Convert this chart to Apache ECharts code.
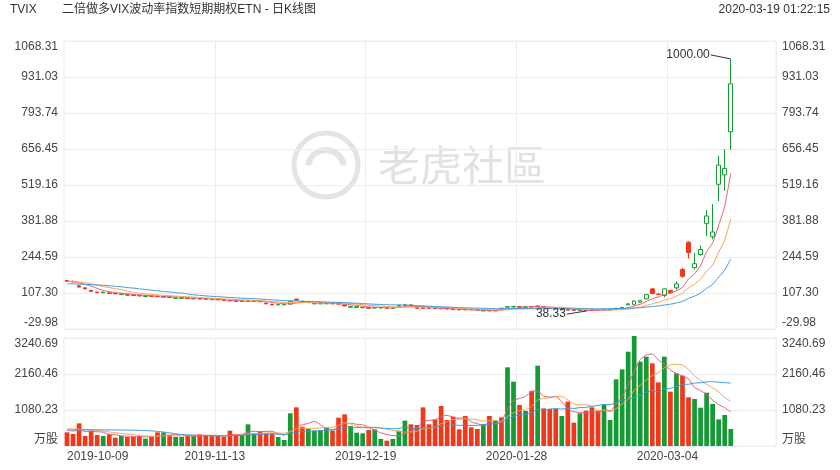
<!DOCTYPE html>
<html><head><meta charset="utf-8">
<script src="https://cdn.jsdelivr.net/npm/echarts@6/dist/echarts.min.js"></script>
<style>html,body{margin:0;padding:0;background:#fff}#c{width:840px;height:470px}</style>
</head><body><div id="c"></div><script>
// ---------------- data ----------------
const dates = [
'2019-10-09','2019-10-10','2019-10-11','2019-10-14','2019-10-15','2019-10-16','2019-10-17','2019-10-18','2019-10-21','2019-10-22',
'2019-10-23','2019-10-24','2019-10-25','2019-10-28','2019-10-29','2019-10-30','2019-10-31','2019-11-01','2019-11-04','2019-11-05',
'2019-11-06','2019-11-07','2019-11-08','2019-11-11','2019-11-12','2019-11-13','2019-11-14','2019-11-15','2019-11-18','2019-11-19',
'2019-11-20','2019-11-21','2019-11-22','2019-11-25','2019-11-26','2019-11-27','2019-11-29','2019-12-02','2019-12-03','2019-12-04',
'2019-12-05','2019-12-06','2019-12-09','2019-12-10','2019-12-11','2019-12-12','2019-12-13','2019-12-16','2019-12-17','2019-12-18',
'2019-12-19','2019-12-20','2019-12-23','2019-12-24','2019-12-26','2019-12-27','2019-12-30','2019-12-31','2020-01-02','2020-01-03',
'2020-01-06','2020-01-07','2020-01-08','2020-01-09','2020-01-10','2020-01-13','2020-01-14','2020-01-15','2020-01-16','2020-01-17',
'2020-01-21','2020-01-22','2020-01-23','2020-01-24','2020-01-27','2020-01-28','2020-01-29','2020-01-30','2020-01-31','2020-02-03',
'2020-02-04','2020-02-05','2020-02-06','2020-02-07','2020-02-10','2020-02-11','2020-02-12','2020-02-13','2020-02-14','2020-02-18',
'2020-02-19','2020-02-20','2020-02-21','2020-02-24','2020-02-25','2020-02-26','2020-02-27','2020-02-28','2020-03-02','2020-03-03',
'2020-03-04','2020-03-05','2020-03-06','2020-03-09','2020-03-10','2020-03-11','2020-03-12','2020-03-13','2020-03-16','2020-03-17',
'2020-03-18'];

const openPx = [
155,152,135,127,117,111,108,108,106,101,
101,100,98,94,96,95,91,92,87,87,
88,85,86,85,84,83,81,79,77,75,
75,75,76,69,64,62,62,65,84,75,
71,66,66,66,68,69,62,53,52,51,
52,50,50,51,49,57,59,62,52,51,
51,50,49,48,46,45,45,45,44,39,
41,39,49,53,54,55,53,56,54,55,
51,49,43,44,43,40,41,43,45,43,
43,46,48,62,64,72,85,123,103,98,
117,127,197,301,204,254,373,322,522,558,
722];
const closePx = [
151,150,130,123,113,109,111,105,104,104,
99,98,96,97,94,93,94,90,89,89,
86,87,84,83,82,81,79,77,75,77,
77,77,74,66,62,64,64,76,80,72,
73,68,68,68,66,65,58,56,55,53,
49,52,52,49,51,60,62,59,49,49,
49,48,47,46,44,43,43,43,42,41,
39,41,47,55,56,53,55,54,58,53,
49,47,45,42,41,42,39,41,43,45,
46,49,52,66,77,78,101,105,101,123,
108,142,171,261,219,273,401,340,595,582,
905];
const lowPx = [
149,148,129,122,112,107,107,104,103,100,
98,97,95,93,93,92,90,89,86,86,
85,84,83,82,81,80,78,76,74,74,
74,74,73,65,61,61,61,64,78,71,
70,65,65,65,65,63,57,52,51,50,
48,49,49,48,48,56,58,58,48,48,
48,47,46,45,43,42,42,42,41,38.8,
38.6,38.7,46,52,53,52,52,53,53,52,
48,46,42,41,40,39.5,38.33,40,42,42,
42,45,47,60,60,70,83,103,99,91,
104,120,165,238,197,250,324,312,458,497,
654];
const highPx = [
158,154,136,128,118,112,112,109,107,105,
102,101,99,98,97,96,95,93,90,90,
89,88,87,86,85,84,82,80,78,78,
78,78,77,70,65,65,65,78,85,76,
74,69,69,69,69,71,63,57,56,54,
53,53,53,52,52,61,63,63,53,52,
52,51,50,49,47,46,46,46,45,42,
42,42,50,56,57,56,56,57,59,56,
52,50,46,45,44,43,42,44,46,46,
47,50,53,68,79,80,104,126,108,125,
120,152,203,305,261,289,424,446,630,656,
1000];

const ma5 = [
152,150,146,140,133.4,125,117.2,112.2,108.4,106.6,
104.6,102,100.2,98.8,96.8,95.6,94.8,93.6,92,91,
89.6,88.2,87,85.8,84.4,83.4,81.8,80.4,78.8,77.8,
77,76.6,76,74.2,71.2,68.6,66,66.4,69.2,71.2,
73,73.8,72.2,69.8,68.6,67,65,62.6,60,57.4,
54.2,53,52.2,51,50.6,52.8,54.8,56.2,56.2,55.8,
53.6,50.8,48.4,47.8,46.8,45.6,44.6,43.8,43,42.4,
41.6,41.2,42,44.6,47.6,50.4,53.2,54.6,55.2,54.6,
53.8,52.2,50.4,47.2,44.8,43.4,41.8,41,41.2,42,
42.8,44.8,47,51.6,58,64.4,74.8,85.4,92.4,101.6,
107.6,115.8,129,161,180.2,213.2,265,298.8,365.6,438.2,
564.6];
const ma10 = [
152,151,149,146,142,137,132,128,124,120,
114.8,109.6,106.2,103.6,101.7,100.1,98.4,96.9,95.4,93.9,
92.6,91.5,90.3,88.9,87.7,86.5,85,83.7,82.3,81.1,
80.2,79.2,78.2,76.5,74.5,72.8,71.3,71.2,71.7,71.2,
70.8,69.9,69.3,69.5,69.9,70,69.4,67.4,64.9,63,
60.6,59,57.4,55.5,54,53.5,53.9,54.2,53.6,53.2,
53.2,52.8,52.3,52,51.3,49.6,47.7,46.1,45.4,44.6,
43.6,42.9,42.9,43.8,45,46,47.2,48.3,49.9,51.1,
52.1,52.7,52.5,51.2,49.7,48.6,47,45.7,44.2,43.4,
43.1,43.3,44,46.4,50,53.6,59.8,66.2,72,79.8,
86,95.3,107.2,126.7,140.9,160.4,190.4,213.9,263.3,309.2,
388.9];
const ma20 = [
143,142,141,140,139,138,137,135,133,131,
128,126,123,121,118,116,113,111,108.5,107,
103.7,100.6,98.3,96.3,94.7,93.3,91.7,90.3,88.9,87.5,
86.4,85.4,84.3,82.7,81.1,79.7,78.2,77.5,77,76.2,
75.5,74.6,73.8,73,72.2,71.4,70.4,69.3,68.3,67.1,
65.7,64.5,63.4,62.5,62,61.8,61.7,60.8,59.3,58.1,
56.9,55.9,54.9,53.8,52.7,51.6,50.8,50.2,49.5,48.9,
48.4,47.9,47.6,47.9,48.2,47.8,47.5,47.2,47.7,47.9,
47.9,47.8,47.7,47.5,47.4,47.3,47.1,47,47.1,47.3,
47.6,48,48.3,48.8,49.9,51.1,53.4,56,58.1,61.6,
64.6,69.3,75.6,86.6,95.5,107,125.1,140.1,167.7,194.5,
237.5];

const volume = [
410,360,680,300,460,330,300,350,250,300,
270,270,300,220,280,410,410,330,270,270,
310,300,350,300,300,300,280,460,350,350,
650,380,430,380,380,270,180,980,1160,580,
510,460,480,558,460,850,950,600,400,380,
480,500,210,160,210,460,760,650,630,1160,
650,800,1200,780,880,500,900,560,510,650,
900,760,860,2360,1930,1230,1050,1650,2410,1130,
1110,1110,900,1330,700,980,1060,1160,1060,1230,
780,2000,2300,2830,3300,2530,2680,2480,1910,2680,
1630,2180,2110,1460,1410,1150,1600,1260,800,930,
510];
const vma5 = [
470,450,480,440,442,426,414,348,338,306,
294,288,278,272,268,296,324,330,340,338,
318,296,300,306,312,310,306,328,338,348,
418,438,432,438,444,368,328,438,594,634,
682,738,638,518,494,562,660,684,652,636,
562,472,394,346,312,308,360,448,542,732,
770,778,888,918,862,832,852,724,670,624,
704,676,736,1106,1362,1428,1486,1644,1654,1494,
1470,1482,1332,1116,1030,1004,994,1046,992,1098,
1058,1246,1474,1828,2242,2592,2728,2764,2580,2456,
2276,2176,2102,2012,1758,1662,1546,1376,1244,1148,
1020];
const vma10 = [
520,515,510,500,490,470,450,420,395,374,
360,351,313,305,287,295,306,304,306,303,
307,310,315,323,325,314,301,314,322,330,
364,372,380,388,396,393,383,435,516,539,
525,533,538,556,564,622,699,661,585,565,
562,566,539,499,474,435,416,421,444,522,
539,569,668,730,797,801,815,806,794,743,
768,764,730,888,993,1066,1081,1190,1380,1428,
1449,1484,1488,1385,1262,1237,1238,1189,1054,1064,
1031,1120,1260,1410,1670,1825,1987,2119,2204,2349,
2434,2452,2433,2296,2107,1969,1861,1739,1628,1453,
1341];
const vma20 = [
480,481,482,483,484,484,483,482,481,480,
478,475,470,462,452,440,420,395,368,339,
334,331,314,314,306,305,304,309,314,317,
336,341,348,356,361,354,342,375,419,435,
445,453,459,472,480,508,541,548,551,552,
544,550,539,528,519,529,558,541,515,544,
551,568,604,615,636,618,616,614,619,633,
654,667,699,809,895,934,948,998,1087,1086,
1109,1124,1109,1137,1128,1152,1160,1190,1217,1246,
1240,1302,1374,1398,1467,1531,1612,1654,1629,1706,
1732,1786,1846,1853,1888,1897,1924,1929,1916,1901,
1889];

const priceTicks = ['-29.98','107.30','244.59','381.88','519.16','656.45','793.74','931.03','1068.31'];
const volumeTicks = ['万股','1080.23','2160.46','3240.69'];
const annotations = [
  {index:110, value:1000, text:'1000.00', kind:'high'},
  {index:86, value:38.33, text:'38.33', kind:'low'}
];

// ---------------- layout / style ----------------
const PMIN = -29.98, PMAX = 1068.31, PSTEP = (PMAX - PMIN) / 8;
const VMIN = 0, VMAX = 3240.69, VSTEP = 1080.23;
const GREEN = '#169a35', RED = '#f0381a';
const GRID = '#e7eef4';
const LBL = '#454545';
const FONT = '"Liberation Sans", Arial, "Noto Sans CJK SC", sans-serif';
const PAD_SLOTS = 7;
const cats = dates.slice();
for (let k = 1; k <= PAD_SLOTS; k++) cats.push(' '.repeat(k));
const isTick = (i) => i % 25 === 0 && i <= 100;

const candleData = dates.map((d, i) => [openPx[i], closePx[i], lowPx[i], highPx[i]]);
const volData = volume.map((v, i) => ({value: v, itemStyle: {color: closePx[i] >= openPx[i] ? GREEN : RED}}));

function xAxis(gi, showLabel) {
  return {
    type: 'category', gridIndex: gi, data: cats, boundaryGap: true,
    axisLine: {show: false}, axisTick: {show: false},
    splitLine: {show: true, interval: (i) => isTick(i) && i > 0, lineStyle: {color: GRID, width: 1}},
    axisLabel: showLabel ? {
      show: true, interval: (i) => isTick(i), color: LBL, fontSize: 12, fontFamily: FONT,
      margin: 5, padding: [0, 6, 0, 0], alignMinLabel: 'left'
    } : {show: false}
  };
}
function yAxis(gi, pos, min, max, step, ticks, split) {
  return {
    type: 'value', gridIndex: gi, position: pos, min: min, max: max, interval: step,
    axisLine: {show: false}, axisTick: {show: false},
    splitLine: {show: split, lineStyle: {color: GRID, width: 1}},
    axisLabel: {
      color: LBL, fontSize: 12, fontFamily: FONT, margin: 6,
      verticalAlignMinLabel: 'bottom', verticalAlignMaxLabel: 'top',
      formatter: (v) => ticks[Math.round((v - min) / step)]
    }
  };
}
function line(name, data, color, xi, yi) {
  return {type: 'line', name: name, data: data, xAxisIndex: xi, yAxisIndex: yi,
    symbol: 'none', showSymbol: false, smooth: 0.2,
    lineStyle: {color: color, width: 1}, z: 3, silent: true};
}

const chart = echarts.init(document.getElementById('c'), null, {renderer: 'canvas'});
chart.setOption({
  animation: false,
  backgroundColor: '#ffffff',
  textStyle: {fontFamily: FONT},
  grid: [
    {left: 64, right: 64, top: 41, height: 288, show: true, borderColor: GRID, borderWidth: 1, backgroundColor: 'transparent'},
    {left: 64, right: 64, top: 338, height: 108, show: true, borderColor: GRID, borderWidth: 1, backgroundColor: 'transparent'}
  ],
  xAxis: [xAxis(0, false), xAxis(1, true)],
  yAxis: [
    yAxis(0, 'left', PMIN, PMAX, PSTEP, priceTicks, true),
    yAxis(0, 'right', PMIN, PMAX, PSTEP, priceTicks, false),
    yAxis(1, 'left', VMIN, VMAX, VSTEP, volumeTicks, true),
    yAxis(1, 'right', VMIN, VMAX, VSTEP, volumeTicks, false)
  ],
  graphic: [
    {type: 'text', left: 10, top: 4, z: 10, style: {text: 'TVIX', fill: '#333', font: '12px ' + FONT}},
    {type: 'text', left: 62, top: 4, z: 10, style: {text: '二倍做多VIX波动率指数短期期权ETN - 日K线图', fill: '#333', font: '12px ' + FONT}},
    {type: 'text', right: 10, top: 4, z: 10, style: {text: '2020-03-19 01:22:15', fill: '#333', font: '12px ' + FONT}},
    {type: 'circle', z: 0, shape: {cx: 326, cy: 165, r: 32}, style: {fill: 'none', stroke: '#e4e4e4', lineWidth: 5}},
    {type: 'arc', z: 0, shape: {cx: 326, cy: 168, r: 18, startAngle: Math.PI * 1.05, endAngle: Math.PI * 1.95}, style: {fill: 'none', stroke: '#e4e4e4', lineWidth: 6}},
    {type: 'text', z: 0, style: {text: '老虎社區', x: 378, y: 165, fill: '#e2e2e2', font: '42px "Noto Sans CJK SC"', align: 'left', verticalAlign: 'middle', textAlign: 'left', textVerticalAlign: 'middle'}}
  ],
  series: [
    {type: 'candlestick', name: 'K', data: candleData, xAxisIndex: 0, yAxisIndex: 0, barWidth: 4, z: 2,
      itemStyle: {color: '#ffffff', color0: RED, borderColor: GREEN, borderColor0: RED, borderWidth: 1}},
    line('MA5', ma5, '#e85b7b', 0, 0),
    line('MA10', ma10, '#f7a34c', 0, 0),
    line('MA20', ma20, '#3f98de', 0, 0),
    {type: 'bar', name: 'VOL', data: volData, xAxisIndex: 1, yAxisIndex: 2, barWidth: '78%', clip: false, z: 2},
    line('VMA5', vma5, '#e85b7b', 1, 2),
    line('VMA10', vma10, '#f7a34c', 1, 2),
    line('VMA20', vma20, '#3f98de', 1, 2),
    {type: 'custom', name: 'marks', xAxisIndex: 0, yAxisIndex: 0, z: 10, silent: true,
      data: annotations.map(a => [a.index, a.value]),
      renderItem: (params, api) => {
        const a = annotations[params.dataIndex];
        const p = api.coord([api.value(0), api.value(1)]);
        const off = a.kind === 'high' ? [-20, -4] : [-19, 3];
        const q = [p[0] + off[0], p[1] + off[1]];
        return {type: 'group', children: [
          {type: 'line', shape: {x1: p[0], y1: p[1], x2: q[0], y2: q[1]}, style: {stroke: '#333', lineWidth: 1}},
          {type: 'text', style: {text: a.text, x: q[0] - 1, y: q[1], fill: '#333', font: '12px ' + FONT,
            align: 'right', verticalAlign: 'middle', textAlign: 'right', textVerticalAlign: 'middle'}}
        ]};
      }}
  ]
});
</script></body></html>
